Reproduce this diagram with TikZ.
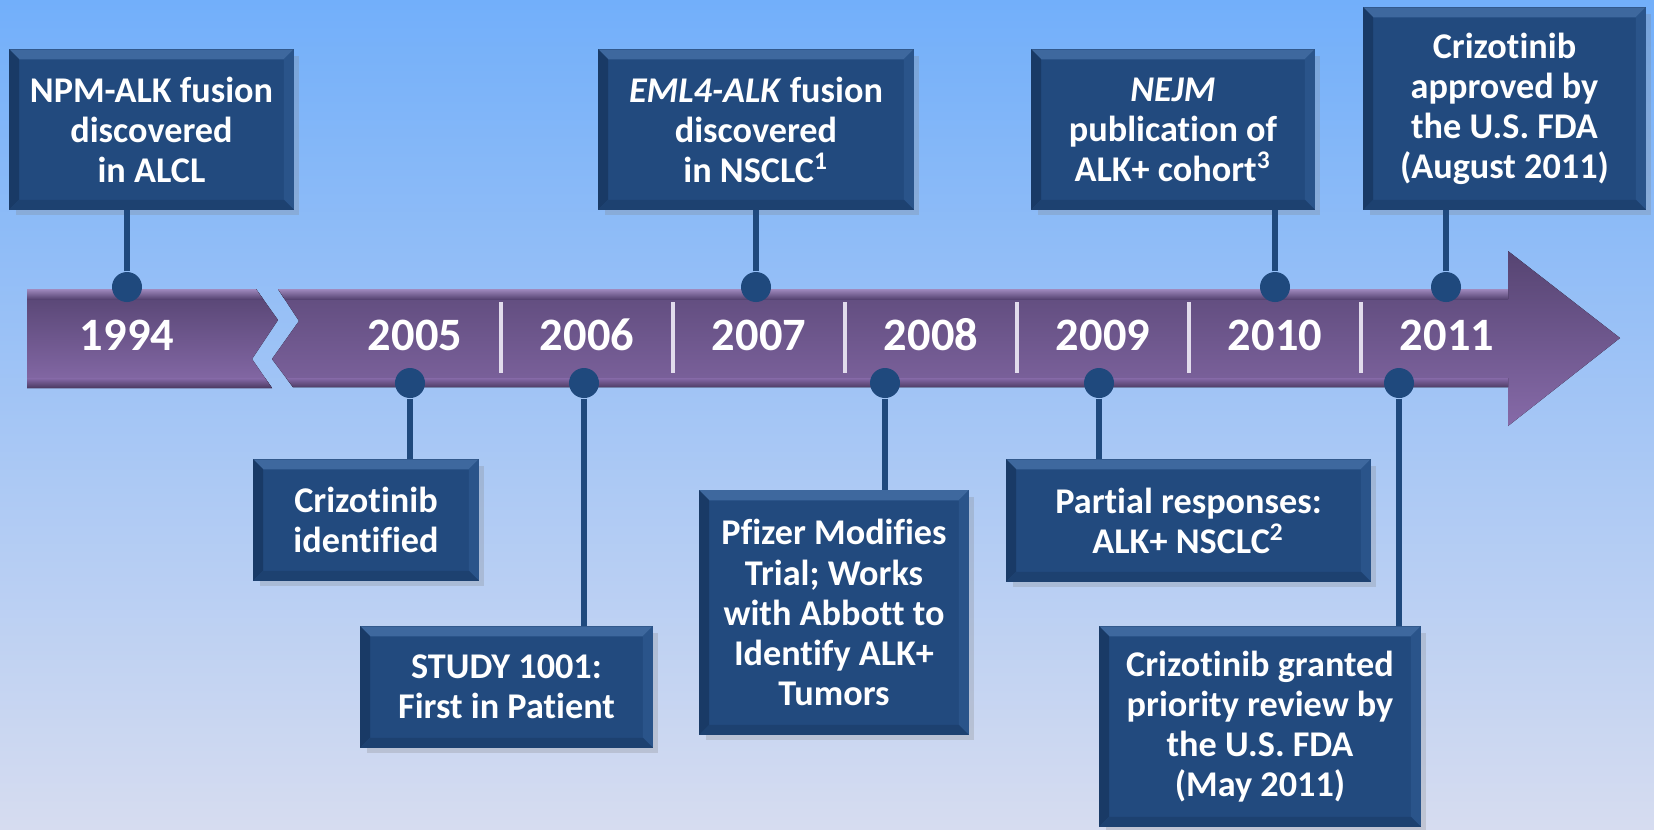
\documentclass[tikz,border=0pt]{standalone}
\usepackage{fontspec}
\setmainfont{Carlito}[Ligatures=NoCommon]
\usepackage{tikz}
\usetikzlibrary{shadows}
\definecolor{bgtop}{RGB}{114,175,250}
\definecolor{bgmid}{RGB}{160,200,243}
\definecolor{bgbot}{RGB}{214,220,240}
\definecolor{boxblue}{RGB}{34,74,126}
\definecolor{boxlight}{RGB}{62,104,158}
\definecolor{boxright}{RGB}{42,84,138}
\definecolor{boxdark}{RGB}{25,58,102}
\definecolor{boxedge}{RGB}{28,62,108}
\definecolor{boxbottom}{RGB}{29,65,112}
\definecolor{dotblue}{RGB}{31,73,125}
\definecolor{bandtop}{RGB}{86,68,114}
\definecolor{bandbot}{RGB}{134,106,168}
\definecolor{bandhi}{RGB}{160,138,190}
\definecolor{bandlo}{RGB}{74,57,96}
\definecolor{sepline}{RGB}{226,220,236}

\begin{document}
\begin{tikzpicture}[x=0.01cm,y=0.01cm]
\tikzstyle{event}=[rectangle, fill=boxblue, draw=boxedge, thin, text=white, align=center, inner sep=0pt, font=\fontsize{10.3}{11.4}\selectfont\bfseries, drop shadow={shadow xshift=0.6mm, shadow yshift=-0.6mm, opacity=0.25}]
\tikzstyle{dot}=[circle, fill=dotblue, inner sep=0pt, minimum size=3mm]
\tikzstyle{stem}=[draw=dotblue, line width=0.6mm]
\tikzstyle{year}=[text=white, inner sep=0pt, font=\fontsize{13.2}{15}\selectfont\bfseries]
% background
\useasboundingbox (0,0) rectangle (1654,-829);
\fill[top color=bgtop, middle color=bgmid, bottom color=bgbot] (0,0) rectangle (1654,-829);
% event boxes
\node[event, minimum width=28.3mm, minimum height=15.9mm] (npm) at (151.5,-129.5) {NPM-ALK fusion\\discovered\\in ALCL};
\node[event, minimum width=31.4mm, minimum height=15.9mm] (eml) at (756,-129.5) {\textit{EML4-ALK} fusion\\discovered\\in NSCLC\textsuperscript{1}};
\node[event, minimum width=28.2mm, minimum height=15.9mm] (nejm) at (1173,-129.5) {\textit{NEJM}\\publication of\\ALK+ cohort\textsuperscript{3}};
\node[event, minimum width=28.1mm, minimum height=20.1mm] (fda) at (1504.5,-108.5) {Crizotinib\\approved by\\the U.S. FDA\\(August 2011)};
\node[event, minimum width=22.4mm, minimum height=12mm] (ident) at (366,-520) {Crizotinib\\identified};
\node[event, minimum width=29.1mm, minimum height=12mm] (study) at (506.5,-687) {STUDY 1001:\\First in Patient};
\node[event, minimum width=26.8mm, minimum height=24.3mm] (pfizer) at (834,-612.5) {Pfizer Modifies\\Trial; Works\\with Abbott to\\Identify ALK+\\Tumors};
\node[event, minimum width=36.3mm, minimum height=12.1mm] (partial) at (1188.5,-520.5) {Partial responses:\\ALK+ NSCLC\textsuperscript{2}};
\node[event, minimum width=32mm, minimum height=19.9mm] (prior) at (1260,-726.5) {Crizotinib granted\\priority review by\\the U.S. FDA\\(May 2011)};
% bevel edges
\foreach \b in {npm,eml,nejm,fda,ident,study,pfizer,partial,prior}
       {
        \fill[boxlight] (\b.north west) -- (\b.north east) -- ([shift={(-1mm,-1mm)}]\b.north east) -- ([shift={(1mm,-1mm)}]\b.north west) -- cycle;
        \fill[boxdark] (\b.north west) -- ([shift={(1mm,-1mm)}]\b.north west) -- ([shift={(1mm,1mm)}]\b.south west) -- (\b.south west) -- cycle;
        \fill[boxright] (\b.north east) -- ([shift={(-1mm,-1mm)}]\b.north east) -- ([shift={(-1mm,1mm)}]\b.south east) -- (\b.south east) -- cycle;
        \fill[boxbottom] (\b.south west) -- ([shift={(1mm,1mm)}]\b.south west) -- ([shift={(-1mm,1mm)}]\b.south east) -- (\b.south east) -- cycle;
       }
% time band
\fill[top color=bandtop, bottom color=bandbot] (27,-289) -- (256,-289) -- (278,-320) -- (252,-359) -- (272,-388) -- (27,-388) -- cycle;
\fill[top color=bandtop, bottom color=bandbot] (278,-289) -- (1508,-289) -- (1508,-251) -- (1620,-338) -- (1508,-426) -- (1508,-387) -- (293,-387) -- (272,-359) -- (299,-321) -- cycle;
\begin{scope}
\clip (27,-289) -- (256,-289) -- (278,-320) -- (252,-359) -- (272,-388) -- (27,-388) -- cycle
      (278,-289) -- (1508,-289) -- (1508,-387) -- (293,-387) -- (272,-359) -- (299,-321) -- cycle;
\fill[top color=bandhi, bottom color=bandtop] (0,-289) rectangle (1654,-299);
\fill[top color=bandbot, bottom color=bandlo] (0,-378) rectangle (1654,-388);
\end{scope}
\foreach \s in {501,673,...,1361}
    \draw[sepline, line width=0.4mm] (\s,-302) -- (\s,-373);
% years
\node[year] (y1994) at (127,-335) {1994};
\foreach \yr [count=\i from 0] in {2005,...,2011}
    \node[year] (y\yr) at (415+172*\i,-335) {\yr};
% dots on the band
\node[dot] (d1994) at (127,-287) {};
\node[dot] (d2007) at (756,-287) {};
\node[dot] (d2010) at (1275,-287) {};
\node[dot] (d2011a) at (1446,-287) {};
\node[dot] (d2005) at (410,-383) {};
\node[dot] (d2006) at (584,-383) {};
\node[dot] (d2008) at (885,-383) {};
\node[dot] (d2009) at (1099,-383) {};
\node[dot] (d2011b) at (1399,-383) {};
% stems
\foreach \d/\b in {d1994/npm,d2007/eml,d2010/nejm,d2011a/fda}
        \draw[stem] (\d) -- (\d |- \b.south);
\foreach \d/\b in {d2005/ident,d2006/study,d2008/pfizer,d2009/partial,d2011b/prior}
        \draw[stem] (\d) -- (\d |- \b.north);
\end{tikzpicture}
\end{document}
